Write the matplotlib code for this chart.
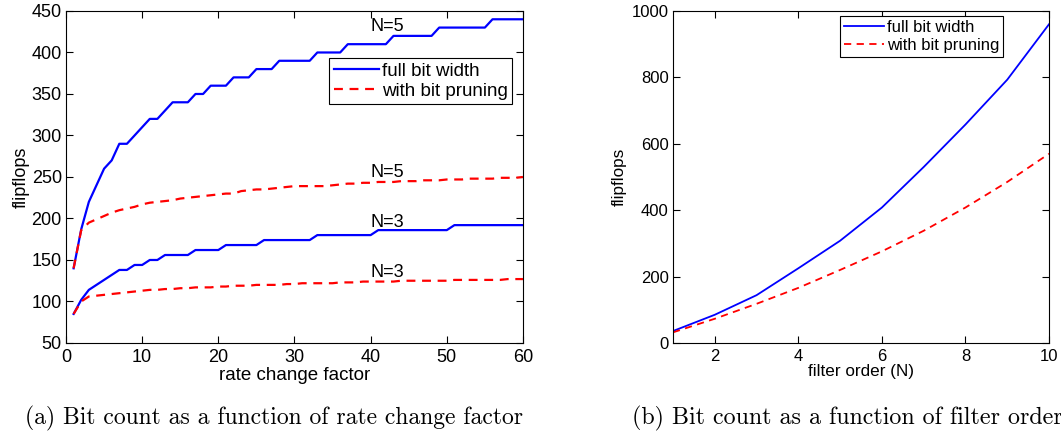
import matplotlib
matplotlib.use('Agg')
import matplotlib.pyplot as plt
import numpy as np

plt.rcParams['font.family'] = ['Liberation Sans', 'DejaVu Sans']

# (a) flipflops vs rate change factor
rate = np.arange(1, 61)
full_n5 = [140, 187, 220, 240, 260, 270, 290, 290, 300, 310,
           320, 320, 330, 340, 340, 340, 350, 350, 360, 360,
           360, 370, 370, 370, 380, 380, 380, 390, 390, 390,
           390, 390, 400, 400, 400, 400, 410, 410, 410, 410,
           410, 410, 420, 420, 420, 420, 420, 420, 430, 430,
           430, 430, 430, 430, 430, 440, 440, 440, 440, 440]
prun_n5 = [140, 186, 195, 199, 203, 207, 210, 212, 214, 217,
           219, 220, 221, 222, 224, 225, 226, 227, 228, 229,
           230, 230, 233, 234, 235, 235, 236, 237, 238, 239,
           239, 239, 239, 239, 240, 241, 242, 242, 243, 243,
           244, 244, 244, 245, 245, 245, 246, 246, 246, 247,
           247, 247, 248, 248, 248, 248, 249, 249, 249, 250]
full_n3 = [85, 102, 114, 120, 126, 132, 138, 138, 144, 144,
           150, 150, 156, 156, 156, 156, 162, 162, 162, 162,
           168, 168, 168, 168, 168, 174, 174, 174, 174, 174,
           174, 174, 180, 180, 180, 180, 180, 180, 180, 180,
           186, 186, 186, 186, 186, 186, 186, 186, 186, 186,
           192, 192, 192, 192, 192, 192, 192, 192, 192, 192]
prun_n3 = [85, 100, 106, 107, 108, 109, 110, 111, 112, 113,
           114, 114, 115, 115, 116, 116, 117, 117, 117, 118,
           118, 119, 119, 119, 120, 120, 120, 120, 121, 121,
           122, 122, 122, 122, 122, 123, 123, 123, 124, 124,
           124, 124, 124, 125, 125, 125, 125, 125, 125, 125,
           126, 126, 126, 126, 126, 126, 126, 127, 127, 127]

# (b) flipflops vs filter order
order = np.arange(1, 11)
full_order = [36, 85, 144, 225, 308, 408, 530, 658, 793, 960]
prun_order = [32, 73, 118, 166, 220, 276, 338, 408, 485, 570]

fig = plt.figure(figsize=(10.61, 4.34), dpi=100)

# left panel
ax1 = fig.add_axes([0.0622, 0.2097, 0.4307, 0.765])
ax1.plot(rate, full_n5, color='blue', lw=1.6, label='full bit width')
ax1.plot(rate, prun_n5, color='red', lw=1.6, ls=(0, (4, 3)), label='with bit pruning')
ax1.plot(rate, full_n3, color='blue', lw=1.6)
ax1.plot(rate, prun_n3, color='red', lw=1.6, ls=(0, (4, 3)))
ax1.set_xlim(0, 60)
ax1.set_ylim(50, 450)
ax1.set_xticks(np.arange(0, 61, 10))
ax1.set_yticks(np.arange(50, 451, 50))
ax1.tick_params(direction='in', top=True, right=True, labelsize=13, length=5, pad=3)
ax1.tick_params(axis='x', pad=4)
ax1.set_xlabel('rate change factor', fontsize=13.5, labelpad=1)
ax1.set_ylabel('flipflops', fontsize=13, labelpad=1)
for txt, yy in [('N=5', 431), ('N=5', 255), ('N=3', 195), ('N=3', 135)]:
    ax1.text(40, yy, txt, fontsize=13, ha='left', va='center')
leg1 = ax1.legend(loc='upper right', bbox_to_anchor=(0.977, 0.859), fontsize=13.5,
                  fancybox=False, edgecolor='black', framealpha=1,
                  handlelength=2.4, handletextpad=0.15, borderpad=0.25,
                  labelspacing=0.15, borderaxespad=0)
leg1.get_frame().set_linewidth(0.8)

# right panel
ax2 = fig.add_axes([0.6343, 0.2097, 0.3544, 0.765])
ax2.plot(order, full_order, color='blue', lw=1.3, label='full bit width')
ax2.plot(order, prun_order, color='red', lw=1.3, ls=(0, (4, 3)), label='with bit pruning')
ax2.set_xlim(1, 10)
ax2.set_ylim(0, 1000)
ax2.set_xticks([2, 4, 6, 8, 10])
ax2.set_yticks(np.arange(0, 1001, 200))
ax2.tick_params(direction='in', top=True, right=True, labelsize=12, length=5, pad=3)
ax2.tick_params(axis='x', pad=4)
ax2.set_xlabel('filter order (N)', fontsize=12.3, labelpad=0)
ax2.set_ylabel('flipflops', fontsize=12.3, labelpad=4)
leg2 = ax2.legend(loc='upper right', bbox_to_anchor=(0.878, 0.985), fontsize=12,
                  fancybox=False, edgecolor='black', framealpha=1,
                  handlelength=2.4, handletextpad=0.15, borderpad=0.25,
                  labelspacing=0.15, borderaxespad=0)
leg2.get_frame().set_linewidth(0.8)

fig.text(25 / 1061, 1 - 418 / 434, '(a) Bit count as a function of rate change factor',
         family='cmr10', fontsize=17, ha='left', va='center')
fig.text(632 / 1061, 1 - 418 / 434, '(b) Bit count as a function of filter order',
         family='cmr10', fontsize=17.3, ha='left', va='center')

fig.savefig('out.png', dpi=100)
